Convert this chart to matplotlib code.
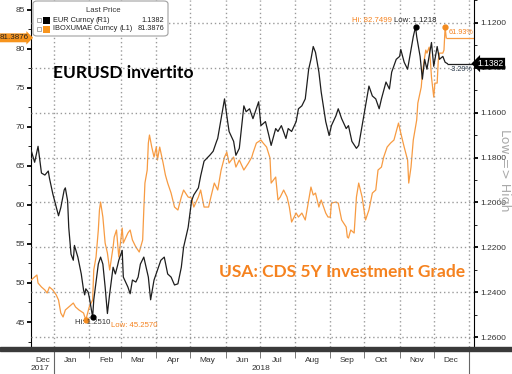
import numpy as np
import pandas as pd
import matplotlib
matplotlib.use("Agg")
import matplotlib.pyplot as plt
import matplotlib.dates as mdates
import matplotlib.transforms as mtransforms
from matplotlib.patches import FancyBboxPatch, Rectangle
from matplotlib.ticker import MultipleLocator, FuncFormatter, FixedLocator

# EUR Curncy (R1) - right axis, inverted
eur_dates = [
    "2017-12-12", "2017-12-15", "2017-12-18", "2017-12-21", "2017-12-24", "2017-12-27",
    "2017-12-28", "2017-12-31", "2018-01-02", "2018-01-04", "2018-01-05", "2018-01-07",
    "2018-01-10", "2018-01-11", "2018-01-13", "2018-01-14", "2018-01-16", "2018-01-18",
    "2018-01-19", "2018-01-22", "2018-01-25", "2018-01-27", "2018-01-28", "2018-01-29",
    "2018-01-31", "2018-02-01", "2018-02-04", "2018-02-05", "2018-02-09", "2018-02-11",
    "2018-02-13", "2018-02-15", "2018-02-17", "2018-02-19", "2018-02-22", "2018-02-24",
    "2018-02-26", "2018-02-27", "2018-03-02", "2018-03-03", "2018-03-07", "2018-03-09",
    "2018-03-11", "2018-03-14", "2018-03-16", "2018-03-18", "2018-03-21", "2018-03-25",
    "2018-03-27", "2018-03-30", "2018-04-02", "2018-04-05", "2018-04-08", "2018-04-11",
    "2018-04-14", "2018-04-17", "2018-04-20", "2018-04-23", "2018-04-25", "2018-04-29",
    "2018-05-02", "2018-05-04", "2018-05-08", "2018-05-10", "2018-05-13", "2018-05-18",
    "2018-05-21", "2018-05-24", "2018-05-25", "2018-05-28", "2018-05-31", "2018-06-02",
    "2018-06-04", "2018-06-08", "2018-06-10", "2018-06-13", "2018-06-17", "2018-06-19",
    "2018-06-22", "2018-06-25", "2018-06-30", "2018-07-02", "2018-07-06", "2018-07-09",
    "2018-07-11", "2018-07-15", "2018-07-17", "2018-07-20", "2018-07-24", "2018-07-26",
    "2018-07-29", "2018-08-02", "2018-08-04", "2018-08-07", "2018-08-10", "2018-08-13",
    "2018-08-15", "2018-08-17", "2018-08-19", "2018-08-22", "2018-08-24", "2018-08-28",
    "2018-08-31", "2018-09-02", "2018-09-06", "2018-09-08", "2018-09-11", "2018-09-15",
    "2018-09-17", "2018-09-20", "2018-09-24", "2018-09-26", "2018-09-29", "2018-10-02",
    "2018-10-05", "2018-10-08", "2018-10-11", "2018-10-14", "2018-10-16", "2018-10-20",
    "2018-10-23", "2018-10-25", "2018-10-29", "2018-11-01", "2018-11-02", "2018-11-05",
    "2018-11-08", "2018-11-11", "2018-11-13", "2018-11-15", "2018-11-16", "2018-11-19",
    "2018-11-21", "2018-11-23", "2018-11-25", "2018-11-29", "2018-12-01", "2018-12-04",
    "2018-12-06", "2018-12-09", "2018-12-11", "2018-12-13",
]
eur_values = [
    1.1769, 1.1821, 1.1750, 1.1869, 1.1878, 1.1860,
    1.1891, 1.1962, 1.2001, 1.2041, 1.2059, 1.2023,
    1.1944, 1.1935, 1.1993, 1.2111, 1.2230, 1.2257,
    1.2191, 1.2243, 1.2318, 1.2389, 1.2411, 1.2384,
    1.2398, 1.2420, 1.2510, 1.2433, 1.2274, 1.2243,
    1.2274, 1.2376, 1.2494, 1.2406, 1.2288, 1.2318,
    1.2279, 1.2257, 1.2213, 1.2332, 1.2376, 1.2406,
    1.2345, 1.2354, 1.2332, 1.2274, 1.2243, 1.2332,
    1.2433, 1.2345, 1.2301, 1.2257, 1.2243, 1.2318,
    1.2332, 1.2367, 1.2362, 1.2288, 1.2199, 1.2111,
    1.1993, 1.1966, 1.1935, 1.1882, 1.1816, 1.1790,
    1.1772, 1.1728, 1.1715, 1.1627, 1.1539, 1.1614,
    1.1684, 1.1728, 1.1790, 1.1759, 1.1570, 1.1596,
    1.1583, 1.1627, 1.1552, 1.1658, 1.1640, 1.1702,
    1.1746, 1.1671, 1.1684, 1.1658, 1.1715, 1.1671,
    1.1684, 1.1640, 1.1583, 1.1570, 1.1539, 1.1407,
    1.1363, 1.1306, 1.1332, 1.1420, 1.1508, 1.1640,
    1.1702, 1.1658, 1.1614, 1.1583, 1.1627, 1.1671,
    1.1658, 1.1728, 1.1759, 1.1746, 1.1658, 1.1570,
    1.1482, 1.1526, 1.1539, 1.1583, 1.1539, 1.1464,
    1.1495, 1.1420, 1.1363, 1.1350, 1.1319, 1.1376,
    1.1407, 1.1319, 1.1262, 1.1218, 1.1262, 1.1350,
    1.1451, 1.1363, 1.1407, 1.1288, 1.1394, 1.1306,
    1.1363, 1.1350, 1.1376, 1.1382,
]

# IBOXUMAE Curncy (L1) - left axis
cds_dates = [
    "2017-12-11", "2017-12-15", "2017-12-17", "2017-12-18", "2017-12-21", "2017-12-24",
    "2017-12-26", "2017-12-28", "2017-12-31", "2018-01-03", "2018-01-05", "2018-01-07",
    "2018-01-09", "2018-01-11", "2018-01-14", "2018-01-18", "2018-01-20", "2018-01-23",
    "2018-01-27", "2018-01-29", "2018-02-01", "2018-02-04", "2018-02-05", "2018-02-07",
    "2018-02-09", "2018-02-10", "2018-02-11", "2018-02-13", "2018-02-15", "2018-02-17",
    "2018-02-19", "2018-02-22", "2018-02-23", "2018-02-25", "2018-02-27", "2018-03-02",
    "2018-03-03", "2018-03-07", "2018-03-09", "2018-03-11", "2018-03-14", "2018-03-17",
    "2018-03-20", "2018-03-21", "2018-03-22", "2018-03-24", "2018-03-25", "2018-03-26",
    "2018-03-28", "2018-03-30", "2018-04-01", "2018-04-02", "2018-04-04", "2018-04-07",
    "2018-04-09", "2018-04-11", "2018-04-14", "2018-04-17", "2018-04-20", "2018-04-23",
    "2018-04-25", "2018-04-29", "2018-05-02", "2018-05-04", "2018-05-08", "2018-05-10",
    "2018-05-13", "2018-05-17", "2018-05-19", "2018-05-22", "2018-05-25", "2018-05-28",
    "2018-05-31", "2018-06-02", "2018-06-04", "2018-06-08", "2018-06-10", "2018-06-13",
    "2018-06-17", "2018-06-21", "2018-06-24", "2018-06-25", "2018-06-28", "2018-07-02",
    "2018-07-04", "2018-07-07", "2018-07-10", "2018-07-11", "2018-07-15", "2018-07-17",
    "2018-07-19", "2018-07-22", "2018-07-25", "2018-07-27", "2018-07-29", "2018-08-02",
    "2018-08-04", "2018-08-07", "2018-08-10", "2018-08-13", "2018-08-15", "2018-08-17",
    "2018-08-19", "2018-08-22", "2018-08-24", "2018-08-28", "2018-08-30", "2018-09-01",
    "2018-09-02", "2018-09-06", "2018-09-08", "2018-09-11", "2018-09-15", "2018-09-16",
    "2018-09-17", "2018-09-19", "2018-09-22", "2018-09-24", "2018-09-26", "2018-09-29",
    "2018-10-02", "2018-10-05", "2018-10-08", "2018-10-11", "2018-10-13", "2018-10-16",
    "2018-10-18", "2018-10-21", "2018-10-24", "2018-10-27", "2018-10-31", "2018-11-02",
    "2018-11-05", "2018-11-08", "2018-11-09", "2018-11-11", "2018-11-13", "2018-11-16",
    "2018-11-17", "2018-11-20", "2018-11-21", "2018-11-23", "2018-11-24", "2018-11-25",
    "2018-11-27", "2018-11-28", "2018-11-29", "2018-12-01", "2018-12-02", "2018-12-04",
    "2018-12-05", "2018-12-06", "2018-12-09", "2018-12-10", "2018-12-11", "2018-12-12",
]
cds_values = [
    50.26, 50.76, 51.02, 49.99, 49.48, 49.10,
    48.71, 49.48, 49.10, 48.46, 47.82, 46.15,
    45.64, 46.54, 46.92, 47.43, 46.92, 46.54,
    46.15, 45.2570, 46.92, 47.82, 51.66, 53.32,
    56.78, 59.34, 60.36, 58.44, 55.11, 53.83,
    51.66, 54.60, 55.88, 56.78, 53.32, 57.03,
    55.11, 56.39, 56.78, 55.50, 54.60, 53.96,
    55.50, 59.34, 62.79, 64.46, 67.91, 68.94,
    67.40, 66.12, 67.40, 65.74, 67.40, 65.35,
    63.82, 62.79, 61.51, 59.72, 59.34, 61.00,
    61.90, 61.00, 60.87, 59.72, 61.00, 61.90,
    59.72, 59.72, 61.00, 62.79, 61.90, 64.46,
    66.12, 66.76, 65.35, 66.12, 64.84, 65.74,
    64.46, 65.35, 66.12, 66.63, 67.91, 68.30,
    67.91, 67.40, 65.99, 62.79, 63.56, 60.62,
    61.00, 61.90, 61.00, 59.72, 57.80, 58.95,
    58.44, 58.95, 58.06, 60.62, 62.28, 61.26,
    61.51, 59.72, 60.62, 58.95, 58.44, 58.44,
    60.23, 60.36, 60.23, 58.06, 57.16, 55.88,
    55.75, 56.78, 56.39, 61.00, 62.79, 61.00,
    58.06, 59.34, 61.51, 61.90, 64.46, 64.84,
    66.12, 67.40, 67.91, 68.30, 70.47, 69.19,
    67.40, 65.74, 62.79, 64.84, 68.30, 70.86,
    73.03, 75.08, 76.87, 78.92, 79.82, 79.43,
    80.20, 78.54, 76.36, 73.80, 75.59, 75.59,
    78.54, 79.43, 79.43, 79.82, 82.7499, 81.3876,
]

W, H = 512, 374
BLACK = "#1e1e1e"
ORANGE_LINE = "#f79b42"
ORANGE_TEXT = "#f5821f"
ORANGE_BOX = "#f7941d"
GRID = "#9a9a9a"


def fx(px):
    return px / W


def fy(py):
    return 1 - py / H


eur = pd.Series(eur_values, index=pd.to_datetime(eur_dates))
cds = pd.Series(cds_values, index=pd.to_datetime(cds_dates))

plt.rcParams["font.family"] = ["Liberation Sans", "DejaVu Sans"]
fig = plt.figure(figsize=(W / 100, H / 100), dpi=100)
fig.patch.set_facecolor("white")
ax = fig.add_axes([fx(31), 1 - 347 / H, fx(474 - 31), 347 / H])
ax2 = ax.twinx()

base = mdates.date2num(pd.Timestamp("2018-01-01"))
x_left, x_right = base - 20.2, base + 369.4

ax.set_xlim(x_left, x_right)
ax.set_ylim(41.8, 86.23)
ax2.set_ylim(1.2643, 1.1099)

# dotted grid: month starts and right-axis major levels
for m in pd.date_range("2018-01-01", "2019-01-01", freq="MS"):
    ax.axvline(m, color=GRID, lw=1.0, ls=(0, (1, 2)), zorder=1)
for lvl in np.arange(1.12, 1.2601, 0.02):
    ax2.axhline(lvl, color=GRID, lw=1.0, ls=(0, (1, 2)), zorder=1)

ax.plot(cds.index, cds.values, color=ORANGE_LINE, lw=0.9, zorder=3)
ax2.plot(eur.index, eur.values, color=BLACK, lw=0.9, zorder=3)

# spines
for s in ["top", "bottom", "right"]:
    ax.spines[s].set_visible(False)
for s in ["top", "bottom", "left"]:
    ax2.spines[s].set_visible(False)
ax.spines["left"].set_color("black")
ax2.spines["right"].set_color("black")

# y ticks
ax.yaxis.set_major_locator(MultipleLocator(5))
ax.yaxis.set_minor_locator(MultipleLocator(2.5))
ax.yaxis.set_major_formatter(FuncFormatter(lambda v, p: f"{v:.0f}"))
ax.tick_params(axis="y", which="major", length=3, width=1.3, labelsize=6,
               labelcolor="#333333", pad=1.5)
ax.tick_params(axis="y", which="minor", length=2, width=0.6)

ax2.yaxis.set_major_locator(MultipleLocator(0.02))
ax2.yaxis.set_minor_locator(MultipleLocator(0.01))
ax2.yaxis.set_major_formatter(FuncFormatter(lambda v, p: f"{v:.4f}"))
ax2.tick_params(axis="y", which="major", length=3, width=1.3, labelsize=6,
                labelcolor="#333333", pad=1.5)
ax2.tick_params(axis="y", which="minor", length=2, width=0.6)

# x ticks: month starts, labels mid-month
ax.xaxis.set_major_locator(mdates.MonthLocator())
ax.xaxis.set_major_formatter(FuncFormatter(lambda v, p: ""))
label_pos = [(x_left + base) / 2] + [mdates.date2num(pd.Timestamp(2018, m, 16)) for m in range(1, 13)]
ax.xaxis.set_minor_locator(FixedLocator(label_pos))
ax.xaxis.set_minor_formatter(FuncFormatter(lambda v, p: mdates.num2date(v).strftime("%b")))
ax.tick_params(axis="x", which="major", length=8, width=0.7, color="#777777", direction="out")
ax.tick_params(axis="x", which="minor", length=0, labelsize=6, labelcolor="#333333", pad=7)

# year separators and labels
trans_x = mtransforms.blended_transform_factory(ax.transData, ax.transAxes)
for d in [base, mdates.date2num(pd.Timestamp("2019-01-01"))]:
    ax.plot([d, d], [0, -27 / 347], transform=trans_x, color="#666666", lw=0.8, clip_on=False)
fig.text(fx(40), fy(368), "2017", ha="center", va="center", fontsize=6, color="#333333")
fig.text(fx(261), fy(368), "2018", ha="center", va="center", fontsize=6, color="#333333")

# dark timeline bar
fig.add_artist(Rectangle((0, fy(351)), 1, 4 / H, transform=fig.transFigure,
                         color="#3a3a3a", zorder=5))

# hi / low markers
eur_hi_d, eur_hi = eur.idxmax(), eur.max()
eur_lo_d, eur_lo = eur.idxmin(), eur.min()
cds_hi_d, cds_hi = cds.idxmax(), cds.max()
cds_lo_d, cds_lo = cds.idxmin(), cds.min()

ax2.plot([eur_hi_d, eur_lo_d], [eur_hi, eur_lo], "o", ms=3.5, color="black", zorder=6)
ax.plot([cds_hi_d, cds_lo_d], [cds_hi, cds_lo], "o", ms=3.5, color="#f28a1e", zorder=6)

ax2.annotate(f"Low: {eur_lo:.4f}", (eur_lo_d, eur_lo), xytext=(0, 3), textcoords="offset pixels",
             ha="center", va="bottom", fontsize=5.6, color="#222222")
ax.annotate(f"Hi: {cds_hi:.4f}", (cds_hi_d, cds_hi), xytext=(-53, 3), textcoords="offset pixels",
            ha="right", va="bottom", fontsize=5.6, color=ORANGE_TEXT)
ax2.annotate(f"Hi: {eur_hi:.4f}", (eur_hi_d, eur_hi), xytext=(0, -2), textcoords="offset pixels",
             ha="center", va="top", fontsize=5.6, color="#333333")
ax.annotate(f"Low: {cds_lo:.4f}", (cds_lo_d, cds_lo), xytext=(25, -2), textcoords="offset pixels",
            ha="left", va="top", fontsize=5.6, color=ORANGE_TEXT)

# last price lines and change labels
cds_last, eur_last = cds.iloc[-1], eur.iloc[-1]
cds_chg = (cds_last / cds.iloc[0] - 1) * 100
eur_chg = (eur_last / eur.iloc[0] - 1) * 100
ax.hlines(cds_last, mdates.date2num(cds.index[-1]), x_right, color=ORANGE_LINE, lw=0.9)
ax2.hlines(eur_last, mdates.date2num(eur.index[-1]), x_right, color=BLACK, lw=0.9)
ax.annotate(f"{cds_chg:.2f}%", (x_right, cds_last), xytext=(-1, 2), textcoords="offset pixels",
            ha="right", va="bottom", fontsize=5.2, color=ORANGE_TEXT)
ax2.annotate(f"{eur_chg:.2f}%", (x_right, eur_last), xytext=(-1, -2), textcoords="offset pixels",
             ha="right", va="top", fontsize=5.2, color="#2b3a4a")

trans_l = mtransforms.blended_transform_factory(ax.transAxes, ax.transData)
ax.text(-0.006, cds_last, f"{cds_last:.4f}", transform=trans_l, ha="right", va="center",
        fontsize=5.8, color="#222222", clip_on=False, zorder=10,
        bbox=dict(boxstyle="rarrow,pad=0.12", fc=ORANGE_BOX, ec="none"))
trans_r = mtransforms.blended_transform_factory(ax2.transAxes, ax2.transData)
ax2.text(1.008, eur_last, f"{eur_last:.4f}", transform=trans_r, ha="left", va="center",
         fontsize=6.2, color="white", clip_on=False, zorder=10,
         bbox=dict(boxstyle="larrow,pad=0.15", fc="black", ec="none"))

# side label
fig.text(fx(504), fy(170), "Low => High", rotation=270, ha="center", va="center",
         fontsize=9, family="DejaVu Sans", color="#aaaaaa")

# big annotations
fig.text(fx(53), fy(73), "EURUSD invertito", ha="left", va="center", fontsize=12.5,
         fontweight="bold", family="Lato", color="black")
fig.text(fx(219), fy(272), "USA: CDS 5Y Investment Grade", ha="left", va="center",
         fontsize=12.5, fontweight="bold", family="Lato", color=ORANGE_TEXT)

# legend box
fig.add_artist(FancyBboxPatch((fx(33), fy(36)), fx(135), 35 / H,
                              boxstyle="round,pad=0,rounding_size=0.008",
                              transform=fig.transFigure, fc="white", ec="#a0a0a0", lw=0.8,
                              zorder=8))
fig.text(fx(103), fy(11), "Last Price", ha="center", va="center", fontsize=5.6,
         color="#333333", zorder=9)
rows = [("EUR Curncy", "(R1)", 96, f"{eur_last:.4f}", "black", 20),
        ("IBOXUMAE Curncy", "(L1)", 119, f"{cds_last:.4f}", ORANGE_BOX, 29)]
for name, side, side_x, val, col, ry in rows:
    fig.add_artist(Rectangle((fx(37), fy(ry + 2)), fx(4), 4 / H, transform=fig.transFigure,
                             fc="white", ec="#888888", lw=0.5, zorder=9))
    fig.add_artist(Rectangle((fx(43), fy(ry + 3.5)), fx(7), 7 / H, transform=fig.transFigure,
                             fc=col, ec="none", zorder=9))
    fig.text(fx(53), fy(ry), name, ha="left", va="center", fontsize=5.3, color="#222222", zorder=9)
    fig.text(fx(side_x), fy(ry), side, ha="left", va="center", fontsize=5.3, color="#222222", zorder=9)
    fig.text(fx(164), fy(ry), val, ha="right", va="center", fontsize=5.3, color="#222222", zorder=9)

fig.savefig("out.png", dpi=100)
